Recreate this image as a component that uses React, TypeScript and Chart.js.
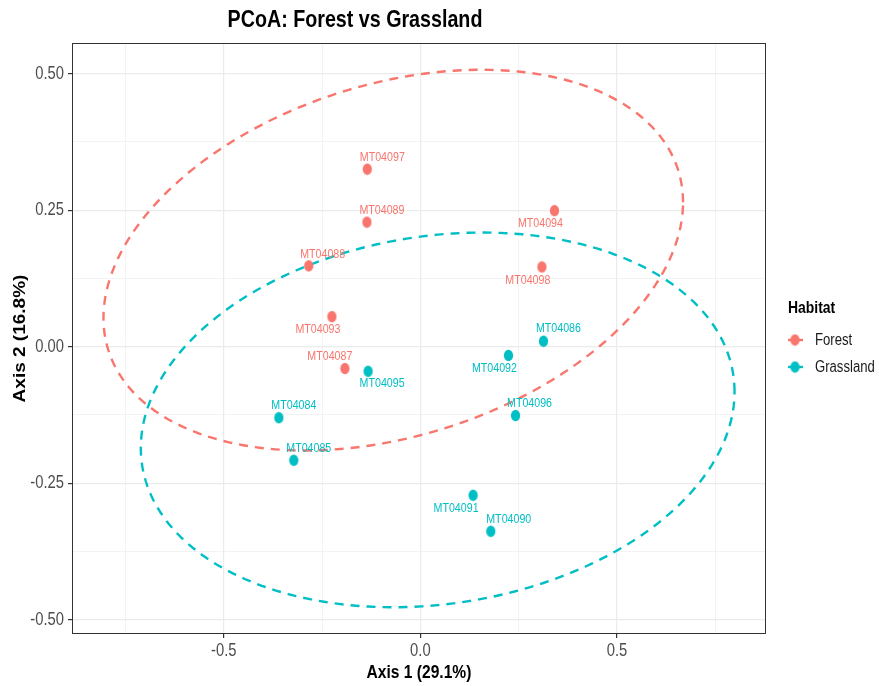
import React, { useEffect, useRef } from 'react';
import { Chart, registerables } from 'chart.js';

Chart.register(...registerables);

// ---------- data ----------
const habitats = ['Forest', 'Grassland'];
const habitatColors = ['#F8766D', '#00BFC4'];

const forestIds = ['MT04097', 'MT04089', 'MT04094', 'MT04088', 'MT04098', 'MT04093', 'MT04087'];
const forestX = [-0.135, -0.136, 0.341, -0.284, 0.309, -0.225, -0.192];
const forestY = [0.325, 0.228, 0.249, 0.148, 0.146, 0.055, -0.040];

const grassIds = ['MT04086', 'MT04092', 'MT04095', 'MT04084', 'MT04096', 'MT04085', 'MT04091', 'MT04090'];
const grassX = [0.313, 0.224, -0.133, -0.360, 0.242, -0.322, 0.134, 0.179];
const grassY = [0.010, -0.016, -0.045, -0.130, -0.126, -0.208, -0.272, -0.338];

// label placement (pixel offsets from the point, like ggrepel)
const forestLabelDx = [15, 15, -14, 14, -14, -14, -15];
const forestLabelDy = [-12, -12, 13, -11, 13, 13, -12];
const grassLabelDx = [15, -14, 14, 15, 14, 15, -17, 18];
const grassLabelDy = [-13, 13, 12, -12, -12, -12, 13, -12];

// confidence ellipses (Forest, Grassland)
const ellipseCenterX = [-0.069, 0.044];
const ellipseCenterY = [0.1585, -0.134];
const ellipseHalfX = [0.737, 0.755];
const ellipseHalfY = [0.3485, 0.343];
const ellipseRho = [0.304, 0.15];

const xGridValues = [-0.75, -0.5, -0.25, 0, 0.25, 0.5, 0.75];
const xMajorValues = [-0.5, 0, 0.5];
const xTickLabels = ['-0.5', '0.0', '0.5'];
const yGridValues = [-0.5, -0.375, -0.25, -0.125, 0, 0.125, 0.25, 0.375, 0.5];
const yMajorValues = [-0.5, -0.25, 0, 0.25, 0.5];
const yTickLabels = ['-0.50', '-0.25', '0.00', '0.25', '0.50'];

const xMin = -0.886, xMax = 0.879;
const yMin = -0.526, yMax = 0.556;

const titleText = 'PCoA: Forest vs Grassland';
const xTitle = 'Axis 1 (29.1%)';
const yTitle = 'Axis 2 (16.8%)';
const legendTitle = 'Habitat';

// ---------- text style ----------
const FAMILY = "'Liberation Sans', Arial, Helvetica, sans-serif";
const SQUEEZE = 0.82; // the reference text is horizontally condensed

function drawText(
  ctx: CanvasRenderingContext2D,
  text: string,
  x: number,
  y: number,
  font: string,
  color: string,
  align: CanvasTextAlign,
  rotated = false
) {
  ctx.save();
  ctx.translate(x, y);
  if (rotated) {
    ctx.rotate(-Math.PI / 2);
    ctx.scale(1, SQUEEZE);
  } else {
    ctx.scale(SQUEEZE, 1);
  }
  ctx.font = font;
  ctx.fillStyle = color;
  ctx.textAlign = align;
  ctx.textBaseline = 'middle';
  ctx.fillText(text, 0, 0);
  ctx.restore();
}

function makePointImage(color: string): HTMLCanvasElement {
  const c = document.createElement('canvas');
  c.width = 11;
  c.height = 13;
  const g = c.getContext('2d')!;
  g.fillStyle = color;
  g.beginPath();
  g.ellipse(5.5, 6.5, 4.6, 5.7, 0, 0, Math.PI * 2);
  g.fill();
  return c;
}

const isMajor = (v: number, majors: number[]) => majors.some((m) => Math.abs(m - v) < 1e-9);

export default function App() {
  const ref = useRef<HTMLCanvasElement | null>(null);

  useEffect(() => {
    if (!ref.current) return;
    const pts = habitatColors.map(makePointImage);

    const overlay = {
      id: 'overlay',
      beforeDatasetsDraw(chart: any) {
        const { ctx, scales } = chart;
        const xs = scales.x, ys = scales.y;
        ctx.save();
        ctx.lineWidth = 2.4;
        ctx.setLineDash([9, 7]);
        for (let k = 0; k < habitats.length; k++) {
          const s = Math.sqrt(1 - ellipseRho[k] * ellipseRho[k]);
          ctx.beginPath();
          ctx.strokeStyle = habitatColors[k];
          const n = 240;
          for (let i = 0; i <= n; i++) {
            const t = (i / n) * Math.PI * 2;
            const dx = ellipseCenterX[k] + ellipseHalfX[k] * Math.cos(t);
            const dy = ellipseCenterY[k] + ellipseHalfY[k] * (ellipseRho[k] * Math.cos(t) + s * Math.sin(t));
            const px = xs.getPixelForValue(dx), py = ys.getPixelForValue(dy);
            if (i === 0) ctx.moveTo(px, py);
            else ctx.lineTo(px, py);
          }
          ctx.stroke();
        }
        ctx.restore();
      },
      afterDatasetsDraw(chart: any) {
        const { ctx, scales } = chart;
        const xs = scales.x, ys = scales.y;
        const groups = [
          { ids: forestIds, x: forestX, y: forestY, dx: forestLabelDx, dy: forestLabelDy, color: habitatColors[0] },
          { ids: grassIds, x: grassX, y: grassY, dx: grassLabelDx, dy: grassLabelDy, color: habitatColors[1] },
        ];
        for (const g of groups) {
          g.ids.forEach((id, i) => {
            const px = xs.getPixelForValue(g.x[i]) + g.dx[i];
            const py = ys.getPixelForValue(g.y[i]) + g.dy[i];
            drawText(ctx, id, px, py, `13px ${FAMILY}`, g.color, 'center');
          });
        }
      },
      afterDraw(chart: any) {
        const { ctx, chartArea, scales } = chart;
        const xs = scales.x, ys = scales.y;
        ctx.save();
        // panel border
        ctx.strokeStyle = '#333333';
        ctx.lineWidth = 1;
        ctx.setLineDash([]);
        ctx.strokeRect(chartArea.left + 0.5, chartArea.top + 0.5, chartArea.right - chartArea.left - 1, chartArea.bottom - chartArea.top - 1);
        ctx.restore();

        // tick labels
        xMajorValues.forEach((v, i) => {
          drawText(ctx, xTickLabels[i], xs.getPixelForValue(v), chartArea.bottom + 17, `18px ${FAMILY}`, '#4d4d4d', 'center');
        });
        yMajorValues.forEach((v, i) => {
          drawText(ctx, yTickLabels[i], chartArea.left - 8, ys.getPixelForValue(v), `18px ${FAMILY}`, '#4d4d4d', 'right');
        });

        // axis titles
        const midX = (chartArea.left + chartArea.right) / 2;
        const midY = (chartArea.top + chartArea.bottom) / 2;
        drawText(ctx, xTitle, midX, 673, `bold 19px ${FAMILY}`, '#000000', 'center');
        drawText(ctx, yTitle, 21, midY, `bold 19px ${FAMILY}`, '#000000', 'center', true);

        // title
        drawText(ctx, titleText, 355, 20, `bold 24px ${FAMILY}`, '#000000', 'center');

        // legend
        drawText(ctx, legendTitle, 788, 308, `bold 17px ${FAMILY}`, '#000000', 'left');
        habitats.forEach((h, i) => {
          const cy = 340 + i * 27;
          ctx.save();
          ctx.strokeStyle = habitatColors[i];
          ctx.lineWidth = 2.4;
          ctx.beginPath();
          ctx.moveTo(788, cy);
          ctx.lineTo(803, cy);
          ctx.stroke();
          ctx.drawImage(pts[i], 795 - 5.5, cy - 6.5);
          ctx.restore();
          drawText(ctx, h, 815, cy + 1, `16px ${FAMILY}`, '#1a1a1a', 'left');
        });
      },
    };

    const chart = new Chart(ref.current, {
      type: 'scatter',
      data: {
        datasets: [
          {
            label: habitats[0],
            data: forestX.map((x, i) => ({ x, y: forestY[i] })),
            pointStyle: pts[0] as any,
            backgroundColor: habitatColors[0],
            borderColor: habitatColors[0],
          },
          {
            label: habitats[1],
            data: grassX.map((x, i) => ({ x, y: grassY[i] })),
            pointStyle: pts[1] as any,
            backgroundColor: habitatColors[1],
            borderColor: habitatColors[1],
          },
        ],
      },
      options: {
        animation: false,
        responsive: false,
        devicePixelRatio: 1,
        layout: { padding: { top: 43, right: 113, left: 0, bottom: 0 } },
        plugins: { legend: { display: false }, tooltip: { enabled: false }, title: { display: false } },
        scales: {
          x: {
            type: 'linear',
            min: xMin,
            max: xMax,
            afterBuildTicks: (axis: any) => {
              axis.ticks = xGridValues.map((v) => ({ value: v }));
            },
            afterFit: (axis: any) => {
              axis.height = 52;
            },
            border: { display: false },
            grid: {
              color: '#ebebeb',
              lineWidth: (c: any) => (isMajor(c.tick?.value, xMajorValues) ? 1.2 : 0.6),
              tickColor: (c: any) => (isMajor(c.tick?.value, xMajorValues) ? '#333333' : 'rgba(0,0,0,0)'),
              tickLength: 4,
              drawTicks: true,
            },
            ticks: { display: false, autoSkip: false, maxRotation: 0 },
            title: { display: false },
          },
          y: {
            type: 'linear',
            min: yMin,
            max: yMax,
            afterBuildTicks: (axis: any) => {
              axis.ticks = yGridValues.map((v) => ({ value: v }));
            },
            afterFit: (axis: any) => {
              axis.width = 72;
            },
            border: { display: false },
            grid: {
              color: '#ebebeb',
              lineWidth: (c: any) => (isMajor(c.tick?.value, yMajorValues) ? 1.2 : 0.6),
              tickColor: (c: any) => (isMajor(c.tick?.value, yMajorValues) ? '#333333' : 'rgba(0,0,0,0)'),
              tickLength: 4,
              drawTicks: true,
            },
            ticks: { display: false, autoSkip: false },
            title: { display: false },
          },
        },
      } as any,
      plugins: [overlay],
    });

    return () => chart.destroy();
  }, []);

  return (
    <div style={{ position: 'fixed', left: 0, top: 0, width: 879, height: 686, background: '#fff' }}>
      <canvas ref={ref} width={879} height={686} style={{ display: 'block', width: 879, height: 686 }} />
    </div>
  );
}
